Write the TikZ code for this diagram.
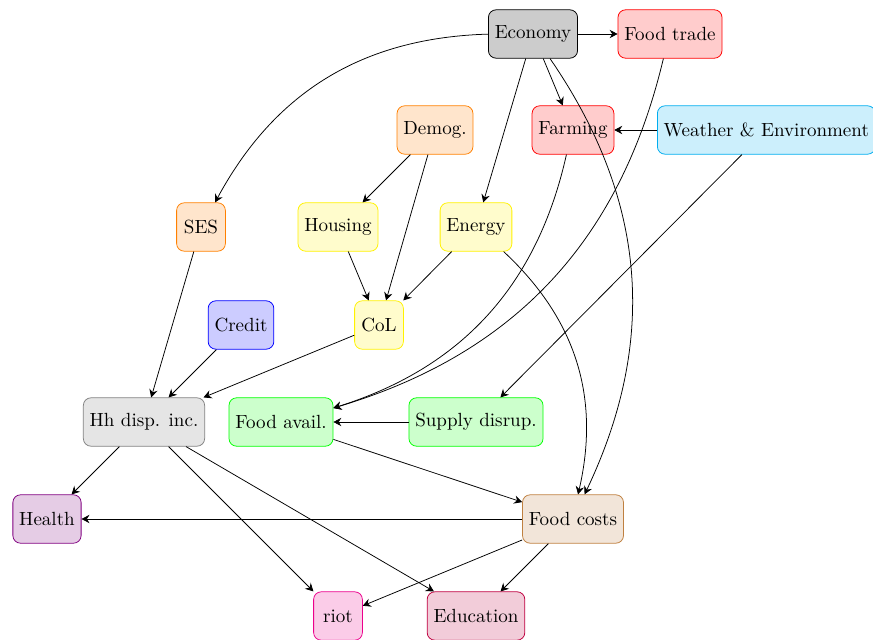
\documentclass[tikz,border=0pt]{standalone}
\usetikzlibrary{arrows.meta}
\begin{document}
\begin{tikzpicture}[x=0.525pt,y=-0.525pt,
  box/.style={draw=#1, fill=#1!20, rounded corners=4pt, minimum height=25.4pt, minimum width=25.6pt, inner sep=3.33pt},
  edge/.style={-{Stealth[length=4.2pt,width=4.4pt,inset=1.4pt]}}]
\useasboundingbox (0,0) rectangle (873,640);
\node[box=black] (eco) at (533,34) {Economy};
\node[box=red] (ftrade) at (670,34) {Food trade};
\node[box=orange] (dem) at (435,130) {Demog.};
\node[box=red] (farm) at (573,130) {Farming};
\node[box=cyan, anchor=west] (wea) at (657,130) {Weather \& Environment};
\node[box=orange] (ses) at (201,227) {SES};
\node[box=yellow] (hous) at (338,227) {Housing};
\node[box=yellow] (ene) at (476,227) {Energy};
\node[box=blue] (cred) at (241,325) {Credit};
\node[box=yellow] (col) at (379,325) {CoL};
\node[box=gray] (hh) at (144,422) {Hh disp. inc.};
\node[box=green] (favail) at (281,422) {Food avail.};
\node[box=green] (sup) at (476,422) {Supply disrup.};
\node[box=violet] (health) at (47,519) {Health};
\node[box=brown] (fcost) at (573,519) {Food costs};
\node[box=magenta] (riot) at (338,616) {riot};
\node[box=purple] (edu) at (476,616) {Education};

\draw[edge] (eco) to[bend right=30] (ses);
\draw[edge] (eco) -- (ftrade);
\draw[edge] (eco) -- (farm);
\draw[edge] (eco) -- (ene);
\draw[edge] (eco) to[bend left=30] (fcost);
\draw[edge] (ftrade) to[bend left=30] (favail);
\draw[edge] (wea) -- (farm);
\draw[edge] (wea) -- (sup);
\draw[edge] (farm) to[bend left=30] (favail);
\draw[edge] (dem) -- (hous);
\draw[edge] (dem) -- (col);
\draw[edge] (hous) -- (col);
\draw[edge] (ene) -- (col);
\draw[edge] (ene) to[bend left=30] (fcost);
\draw[edge] (ses) -- (hh);
\draw[edge] (cred) -- (hh);
\draw[edge] (col) -- (hh);
\draw[edge] (sup) -- (favail);
\draw[edge] (favail) -- (fcost);
\draw[edge] (hh) -- (health);
\draw[edge] (hh) -- (riot);
\draw[edge] (hh) -- (edu);
\draw[edge] (fcost) -- (health);
\draw[edge] (fcost) -- (riot);
\draw[edge] (fcost) -- (edu);
\end{tikzpicture}
\end{document}
